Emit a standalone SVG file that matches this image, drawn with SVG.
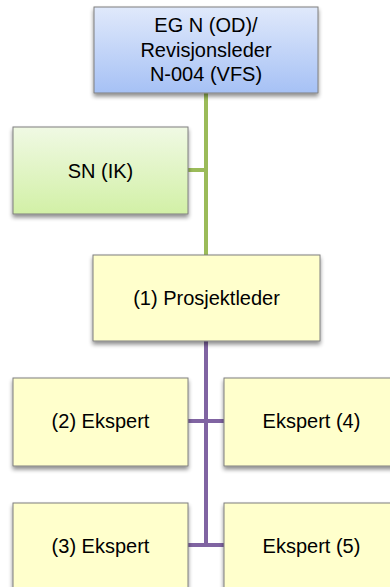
<svg xmlns="http://www.w3.org/2000/svg" width="390" height="587" viewBox="0 0 390 587">
<style>
  .box { stroke: #7f7f7f; stroke-width: 1; filter: url(#sh); }
  .yel { fill: #ffffcc; }
  .lbl { font-family: "Liberation Sans", Arial, sans-serif; font-size: 20px; fill: #000; text-anchor: middle; }
  .g { stroke: #9bbb59; stroke-width: 4; fill: none; }
  .p { stroke: #8064a2; stroke-width: 4; fill: none; }
</style>
<defs>
  <linearGradient id="blue" x1="0" y1="0" x2="0" y2="1">
    <stop offset="0" stop-color="#e0e9fb"/>
    <stop offset="1" stop-color="#a6c1f5"/>
  </linearGradient>
  <linearGradient id="green" x1="0" y1="0" x2="0" y2="1">
    <stop offset="0" stop-color="#f0f9e4"/>
    <stop offset="1" stop-color="#d2f0a6"/>
  </linearGradient>
  <filter id="sh" x="-10%" y="-10%" width="125%" height="130%">
    <feGaussianBlur in="SourceAlpha" stdDeviation="2"/>
    <feOffset dx="0" dy="3" result="b"/>
    <feComponentTransfer><feFuncA type="linear" slope="0.45"/></feComponentTransfer>
    <feMerge><feMergeNode/><feMergeNode in="SourceGraphic"/></feMerge>
  </filter>
</defs>
<g id="connectors">
  <path class="g" d="M206 93 V255 M188 170 H206"/>
  <path class="p" d="M206 341 V545 M188 421 H224 M188 545 H224"/>
</g>
<g id="n-top">
  <rect class="box" x="94" y="7" width="224" height="86" fill="url(#blue)"/>
  <text class="lbl" x="206" y="32">EG N (OD)/</text>
  <text class="lbl" x="206" y="56.5">Revisjonsleder</text>
  <text class="lbl" x="206" y="81">N-004 (VFS)</text>
</g>
<g id="n-sn">
  <rect class="box" x="13" y="127" width="175" height="87" fill="url(#green)"/>
  <text class="lbl" x="100.5" y="178">SN (IK)</text>
</g>
<g id="n-pl">
  <rect class="box yel" x="93" y="255" width="227" height="86"/>
  <text class="lbl" x="206.5" y="305">(1) Prosjektleder</text>
</g>
<g id="n-e2">
  <rect class="box yel" x="13" y="378" width="175" height="88"/>
  <text class="lbl" x="100.5" y="428">(2) Ekspert</text>
</g>
<g id="n-e4">
  <rect class="box yel" x="224" y="378" width="175" height="88"/>
  <text class="lbl" x="311.5" y="428">Ekspert (4)</text>
</g>
<g id="n-e3">
  <rect class="box yel" x="13" y="503" width="175" height="88"/>
  <text class="lbl" x="100.5" y="552.5">(3) Ekspert</text>
</g>
<g id="n-e5">
  <rect class="box yel" x="224" y="503" width="175" height="88"/>
  <text class="lbl" x="311.5" y="552.5">Ekspert (5)</text>
</g>
</svg>
